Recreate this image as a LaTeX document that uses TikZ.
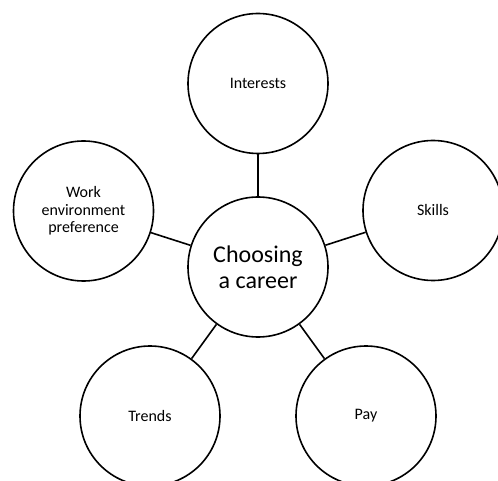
\documentclass[tikz,border=0pt]{standalone}
\usepackage{fontspec}
\setmainfont{Carlito}
\begin{document}
\begin{tikzpicture}[x=1pt,y=1pt,
  bubble/.style={circle,draw=black,line width=1.6pt,minimum size=140pt,inner sep=0pt,align=center,font=\fontsize{16}{17.5}\selectfont},
  hub/.style={bubble,font=\fontsize{24}{26}\selectfont},
  link/.style={line width=1.6pt,draw=black}]
\useasboundingbox (0,0) rectangle (498,-481);
\begin{scope}
\clip (0,0) rectangle (498,-481);
\node[hub] (c) at (258,-267) {Choosing\\a career};
\node[bubble] (i) at (258,-83.5) {Interests};
\node[bubble] (s) at (433,-210.5) {Skills};
\node[bubble] (w) at (83.5,-211) {Work\\environment\\preference};
\node[bubble] (t) at (150,-416) {Trends};
\node[bubble] (p) at (366,-416) {Pay};
\draw[link] (c) -- (i);
\draw[link] (c) -- (s);
\draw[link] (c) -- (w);
\draw[link] (c) -- (t);
\draw[link] (c) -- (p);
\end{scope}
\end{tikzpicture}
\end{document}
